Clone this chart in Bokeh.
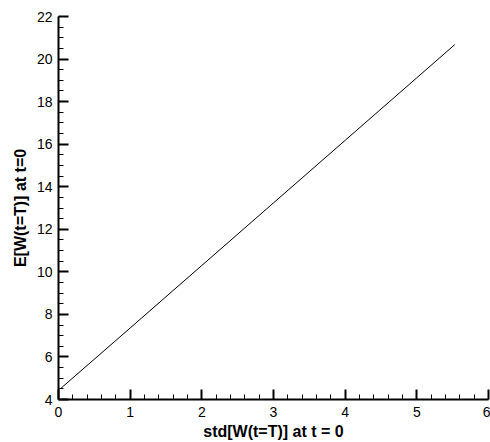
from bokeh.plotting import figure
from bokeh.embed import file_html
from bokeh.resources import INLINE
from bokeh.models import Range1d, FixedTicker

# data
std_w = [0.035, 0.065, 1.0, 2.0, 3.0, 4.0, 5.0, 5.53]
mean_w = [4.52, 4.62, 7.36, 10.3, 13.24, 16.18, 19.12, 20.68]

x_ticks = [0, 1, 2, 3, 4, 5, 6]
y_ticks = [4, 6, 8, 10, 12, 14, 16, 18, 20, 22]
x_minor = [i * 0.2 for i in range(0, 31)]
y_minor = [4 + i * 0.5 for i in range(0, 37)]

p = figure(width=490, height=442, output_backend="svg", toolbar_location=None,
           x_range=Range1d(0, 6), y_range=Range1d(4, 22),
           min_border_left=58, min_border_right=2, min_border_top=16, min_border_bottom=41)
p.outline_line_color = None
p.xgrid.visible = False
p.ygrid.visible = False

p.line(std_w, mean_w, line_color="black", line_width=1)

for ax, ticks, minor in ((p.xaxis[0], x_ticks, x_minor), (p.yaxis[0], y_ticks, y_minor)):
    ax.ticker = FixedTicker(ticks=ticks, minor_ticks=minor)
    ax.major_tick_in = 10
    ax.major_tick_out = 0
    ax.minor_tick_in = 5
    ax.minor_tick_out = 0
    ax.axis_line_width = 2
    ax.major_tick_line_width = 2
    ax.minor_tick_line_width = 1
    ax.axis_line_color = "black"
    ax.major_tick_line_color = "black"
    ax.minor_tick_line_color = "black"
    ax.major_label_text_font = "Liberation Sans"
    ax.major_label_text_font_size = "14px"
    ax.major_label_text_color = "black"
    ax.axis_label_text_font = "Liberation Sans"
    ax.axis_label_text_font_size = "16px"
    ax.axis_label_text_font_style = "bold"
    ax.axis_label_text_color = "black"

p.xaxis.axis_label = "std[W(t=T)] at t = 0"
p.yaxis.axis_label = "E[W(t=T)] at t=0"
p.xaxis.major_label_standoff = 7
p.yaxis.major_label_standoff = 6
p.xaxis.axis_label_standoff = 3
p.yaxis.axis_label_standoff = 5

open("out.html", "w").write(file_html(p, INLINE))
